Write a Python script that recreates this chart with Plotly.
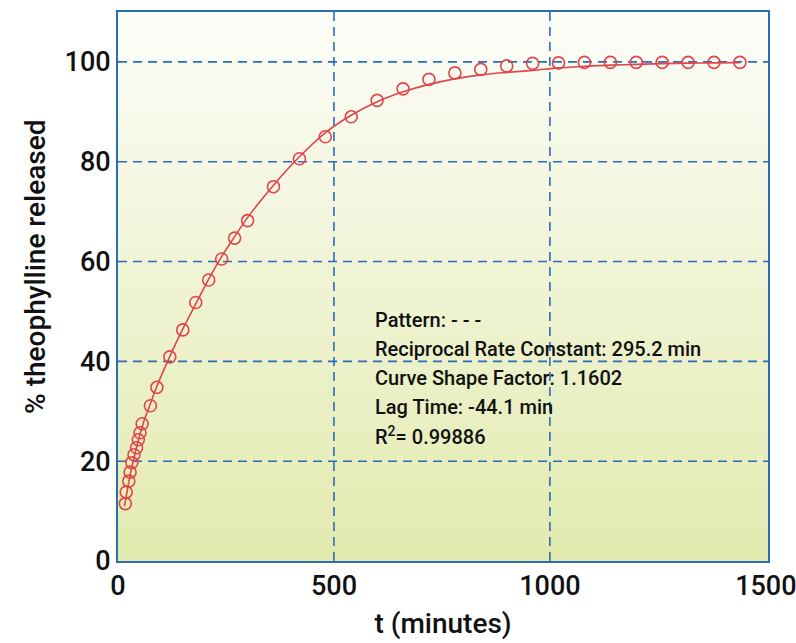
import plotly.graph_objects as go

# Observed data (time in minutes, % released)
t_obs = [17, 19, 25, 28, 32, 37, 43, 47, 51, 56, 75, 90, 120, 150, 180, 210, 240, 270, 300,
         360, 420, 480, 540, 600, 660, 720, 780, 840, 900, 960, 1020, 1080, 1140, 1200,
         1260, 1320, 1380, 1440]
pct_obs = [11.5, 13.8, 16.0, 17.8, 19.7, 21.3, 22.7, 24.3, 25.7, 27.5, 31.1, 34.8, 40.9, 46.3,
           51.8, 56.3, 60.5, 64.7, 68.2, 75.0, 80.6, 85.0, 89.0, 92.3, 94.6, 96.5, 97.8, 98.5,
           99.2, 99.7, 99.8, 99.9, 99.9, 99.9, 99.9, 99.9, 99.9, 99.9]

# Fitted curve
t_fit = [15, 30, 45, 60, 75, 90, 120, 150, 180, 210, 240, 270, 300, 360, 420, 480, 540, 600,
         660, 720, 780, 840, 900, 960, 1020, 1080, 1140, 1200, 1260, 1320, 1380, 1440]
pct_fit = [11.0, 18.0, 23.5, 28.0, 31.5, 35.0, 41.0, 46.5, 51.5, 56.5, 61.0, 65.0, 68.8, 75.3,
           81.0, 85.8, 89.3, 92.0, 94.0, 95.5, 96.6, 97.4, 97.9, 98.3, 98.8, 99.1, 99.35, 99.5,
           99.65, 99.75, 99.8, 99.85]

x_ticks = [0, 500, 1000, 1500]
y_ticks = [0, 20, 40, 60, 80, 100]
x_grid = [500, 1000]
y_grid = [20, 40, 60, 80, 100]

ann_lines = ["Pattern: - - -",
             "Reciprocal Rate Constant: 295.2 min",
             "Curve Shape Factor: 1.1602",
             "Lag Time: -44.1 min",
             "R<sup>2</sup>= 0.99886"]

RED = "#e0454b"
BLUE = "#2b6db3"
FONT = "Roboto, Liberation Sans Narrow, sans-serif"

fig = go.Figure()
fig.add_trace(go.Scatter(x=t_fit, y=pct_fit, mode="lines", line=dict(color=RED, width=1.6, shape="spline"),
                         hoverinfo="skip", showlegend=False))
fig.add_trace(go.Scatter(x=t_obs, y=pct_obs, mode="markers",
                         marker=dict(symbol="circle-open", size=12, color=RED, line=dict(width=1.6, color=RED)),
                         showlegend=False))

# gradient background strips
n = 70
top = (253, 253, 249)
bot = (226, 234, 174)
shapes = []
for i in range(n):
    f = (i + 0.5) / n
    c = tuple(round(bot[k] + (top[k] - bot[k]) * f) for k in range(3))
    shapes.append(dict(type="rect", xref="x domain", yref="y domain", x0=0, x1=1,
                       y0=i / n, y1=(i + 1) / n + 0.002, fillcolor="rgb(%d,%d,%d)" % c,
                       line=dict(width=0), layer="below"))
for gx in x_grid:
    shapes.append(dict(type="line", xref="x", yref="y domain", x0=gx, x1=gx, y0=0, y1=1,
                       line=dict(color=BLUE, width=1.6, dash="9px,6px"), layer="below"))
for gy in y_grid:
    shapes.append(dict(type="line", xref="x domain", yref="y", x0=0, x1=1, y0=gy, y1=gy,
                       line=dict(color=BLUE, width=1.6, dash="9px,6px"), layer="below"))

annotations = []
for i, line in enumerate(ann_lines):
    annotations.append(dict(x=590, y=48.3, xref="x", yref="y", xanchor="left", yanchor="middle",
                            yshift=-29 * i, align="left", showarrow=False, text=line,
                            font=dict(size=20, color="#111111", weight=500)))
annotations.append(dict(x=-0.127, y=0.50, xref="paper", yref="paper", xanchor="center", yanchor="middle",
                        yshift=20, textangle=-90, showarrow=False, text="% theophylline released",
                        font=dict(size=28, color="#111111", weight=500)))

fig.update_layout(
    width=796, height=643,
    margin=dict(l=118, r=28, t=12, b=82),
    paper_bgcolor="white", plot_bgcolor="white",
    shapes=shapes,
    annotations=annotations,
    font=dict(family=FONT, color="#111111", weight=500),
    xaxis=dict(range=[0, 1505], tickvals=x_ticks, showgrid=False, zeroline=False, automargin=False,
               showline=True, mirror=True, linecolor=BLUE, linewidth=2,
               tickfont=dict(size=27, weight=500), ticks="", ticklabeloverflow="allow",
               title=dict(text="t (minutes)", font=dict(size=28, weight=500), standoff=12)),
    yaxis=dict(range=[0, 110], tickvals=y_ticks, showgrid=False, zeroline=False, automargin=False,
               showline=True, mirror=True, linecolor=BLUE, linewidth=2,
               tickfont=dict(size=27, weight=500), ticks=""),
)

fig.write_html("out.html", post_script="document.body.style.margin='0';",
               config={"displayModeBar": False})
